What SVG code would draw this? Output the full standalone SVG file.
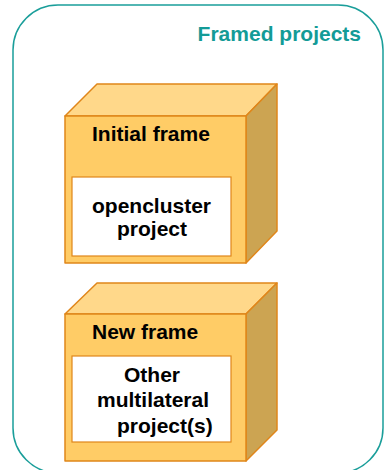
<svg xmlns="http://www.w3.org/2000/svg" width="385" height="470" viewBox="0 0 385 470">
<style>
.front{fill:#FFCC66;stroke:#E0861A;stroke-width:1.5;stroke-linejoin:round}
.top{fill:#FFD88A;stroke:#E0861A;stroke-width:1.5;stroke-linejoin:round}
.side{fill:#CCA452;stroke:#E0861A;stroke-width:1.5;stroke-linejoin:round}
.inner{fill:#FFFFFF;stroke:#E0861A;stroke-width:1.2}
.lbl{font-family:"Liberation Sans",Arial,sans-serif;font-weight:bold;font-size:21px;fill:#000}
.title{font-family:"Liberation Sans",Arial,sans-serif;font-weight:bold;font-size:21px;fill:#139B97}
</style>
<rect width="385" height="470" fill="#FFFFFF"/>
<g id="container">
<rect x="13" y="5" width="370" height="468" rx="45" ry="45" fill="none" stroke="#1A9E9A" stroke-width="1.5"/>
<text class="title" x="361" y="41" text-anchor="end">Framed projects</text>
</g>
<g id="connectors"></g>
<g id="initial-frame">
<polygon class="top" points="65,116 97,84 277,84 246,116"/>
<polygon class="side" points="246,116 277,84 277,231 246,263"/>
<rect class="front" x="65" y="116" width="181" height="147"/>
<text class="lbl" x="92" y="141">Initial frame</text>
<g id="opencluster-project">
<rect class="inner" x="72" y="177" width="159" height="79"/>
<text class="lbl" x="92" y="213">opencluster</text>
<text class="lbl" x="117" y="236">project</text>
</g>
</g>
<g id="new-frame">
<polygon class="top" points="65,314 97,283 277,283 246,314"/>
<polygon class="side" points="246,314 277,283 277,430 246,461"/>
<rect class="front" x="65" y="314" width="181" height="147"/>
<text class="lbl" x="92" y="339">New frame</text>
<g id="other-projects">
<rect class="inner" x="72" y="356" width="159" height="86"/>
<text class="lbl" x="124" y="382">Other</text>
<text class="lbl" x="97" y="407">multilateral</text>
<text class="lbl" x="117" y="433">project(s)</text>
</g>
</g>
</svg>
